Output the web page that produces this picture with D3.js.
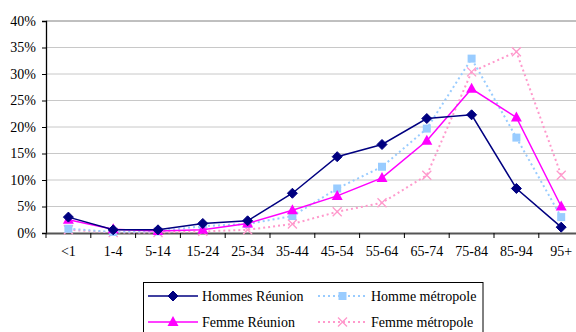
<!DOCTYPE html>
<html><head><meta charset="utf-8">
<script src="https://cdn.jsdelivr.net/npm/d3@7"></script>
</head><body style="margin:0;background:#fff"><svg id="c" width="576" height="332" style="display:block"></svg>
<script>
const categories = ["<1","1-4","5-14","15-24","25-34","35-44","45-54","55-64","65-74","75-84","85-94","95+"];
const hommesReunion = [3.0,0.6,0.6,1.8,2.3,7.5,14.4,16.7,21.6,22.3,8.4,1.1];
const femmeReunion = [2.5,0.7,0.4,0.6,1.8,4.3,7.0,10.4,17.4,27.2,21.8,5.0];
const hommeMetropole = [0.8,0.2,0.3,1.3,1.7,3.2,8.4,12.5,19.7,32.9,18.0,3.0];
const femmeMetropole = [0.6,0.1,0.1,0.3,0.6,1.7,4.0,5.7,10.9,30.4,34.2,10.9];
const yTicks = [0,5,10,15,20,25,30,35,40];

const FONT = '"Liberation Serif"';
const series = [
  {name:"Hommes Réunion", values:hommesReunion, color:"#000080", dash:null, marker:"diamond"},
  {name:"Homme métropole", values:hommeMetropole, color:"#99ccff", dash:"2,3", marker:"square"},
  {name:"Femme Réunion", values:femmeReunion, color:"#ff00ff", dash:null, marker:"triangle"},
  {name:"Femme métropole", values:femmeMetropole, color:"#ff99cc", dash:"2,3", marker:"cross"}
];

const svg = d3.select("#c");
const mLeft = 46, mTop = 21, mBottom = 233, bandW = 44.8;
const x = d3.scaleBand().domain(categories).range([mLeft, mLeft + bandW*categories.length]);
const y = d3.scaleLinear().domain([0,40]).range([mBottom, mTop]);

// gridlines
svg.append("g").selectAll("line").data(yTicks.filter(d=>d>0)).join("line")
  .attr("x1", mLeft).attr("x2", 576).attr("y1", d=>y(d)).attr("y2", d=>y(d))
  .attr("stroke", d=> d===40 ? "#808080" : "#c8c8c8").attr("stroke-width",1);

// y axis
const ya = svg.append("g").attr("transform",`translate(${mLeft},0)`)
  .call(d3.axisLeft(y).tickValues(yTicks).tickFormat(d=>d+"%").tickSize(4).tickPadding(6));
ya.select(".domain").attr("stroke","#000").attr("stroke-width",1.3);
ya.selectAll(".tick line").attr("stroke","#000");
ya.selectAll("text").style("font-family",FONT).style("font-size","14px").attr("fill","#000");

// x axis
const xa = svg.append("g").attr("transform",`translate(0,${mBottom})`)
  .call(d3.axisBottom(x).tickSize(0).tickPadding(13));
xa.select(".domain").attr("stroke","#555").attr("stroke-width",2);
xa.selectAll("text").style("font-family",FONT).style("font-size","14px").attr("fill","#000");
svg.append("g").selectAll("line").data(d3.range(categories.length+1)).join("line")
  .attr("x1", i=>mLeft+i*bandW).attr("x2", i=>mLeft+i*bandW)
  .attr("y1", mBottom).attr("y2", mBottom+5).attr("stroke","#000");

const cx = c => x(c) + x.bandwidth()/2;
function drawMarker(g, type, color, px, py){
  if(type==="diamond"){
    g.append("path").attr("d",`M${px},${py-5}L${px+5},${py}L${px},${py+5}L${px-5},${py}Z`).attr("fill",color).attr("stroke",color);
  } else if(type==="square"){
    g.append("rect").attr("x",px-4).attr("y",py-4).attr("width",8).attr("height",8).attr("fill",color);
  } else if(type==="triangle"){
    g.append("path").attr("d",`M${px},${py-6}L${px+5.5},${py+4}L${px-5.5},${py+4}Z`).attr("fill",color);
  } else {
    g.append("path").attr("d",`M${px-4.5},${py-4.5}L${px+4.5},${py+4.5}M${px+4.5},${py-4.5}L${px-4.5},${py+4.5}`).attr("stroke",color).attr("stroke-width",1.3).attr("fill","none");
  }
}

const line = d3.line().x((d,i)=>cx(categories[i])).y(d=>y(d));
const drawOrder = [series[3], series[1], series[2], series[0]];
drawOrder.forEach(s=>{
  const g = svg.append("g");
  g.append("path").datum(s.values).attr("d",line).attr("fill","none")
    .attr("stroke",s.color).attr("stroke-width", s.dash?2:1.5).attr("stroke-dasharray",s.dash);
  s.values.forEach((v,i)=>drawMarker(g, s.marker, s.color, cx(categories[i]), y(v)));
});

// legend
const lg = svg.append("g");
lg.append("rect").attr("x",143.5).attr("y",282.5).attr("width",339.5).attr("height",60)
  .attr("fill","#fff").attr("stroke","#000").attr("stroke-width",1);
const legendItems = [
  {s:series[0], lx:148, len:50, ty:296},
  {s:series[1], lx:318, len:49, ty:296},
  {s:series[2], lx:148, len:50, ty:322},
  {s:series[3], lx:318, len:49, ty:322}
];
legendItems.forEach(it=>{
  const s = it.s;
  lg.append("line").attr("x1",it.lx).attr("x2",it.lx+it.len).attr("y1",it.ty).attr("y2",it.ty)
    .attr("stroke",s.color).attr("stroke-width",s.dash?2:1.5).attr("stroke-dasharray",s.dash);
  drawMarker(lg, s.marker, s.color, it.lx+it.len/2, it.ty);
  lg.append("text").attr("x", it.lx+it.len+4).attr("y", it.ty).attr("dy","0.35em")
    .style("font-family",FONT).style("font-size","14px").attr("fill","#000").text(s.name);
});
</script></body></html>
